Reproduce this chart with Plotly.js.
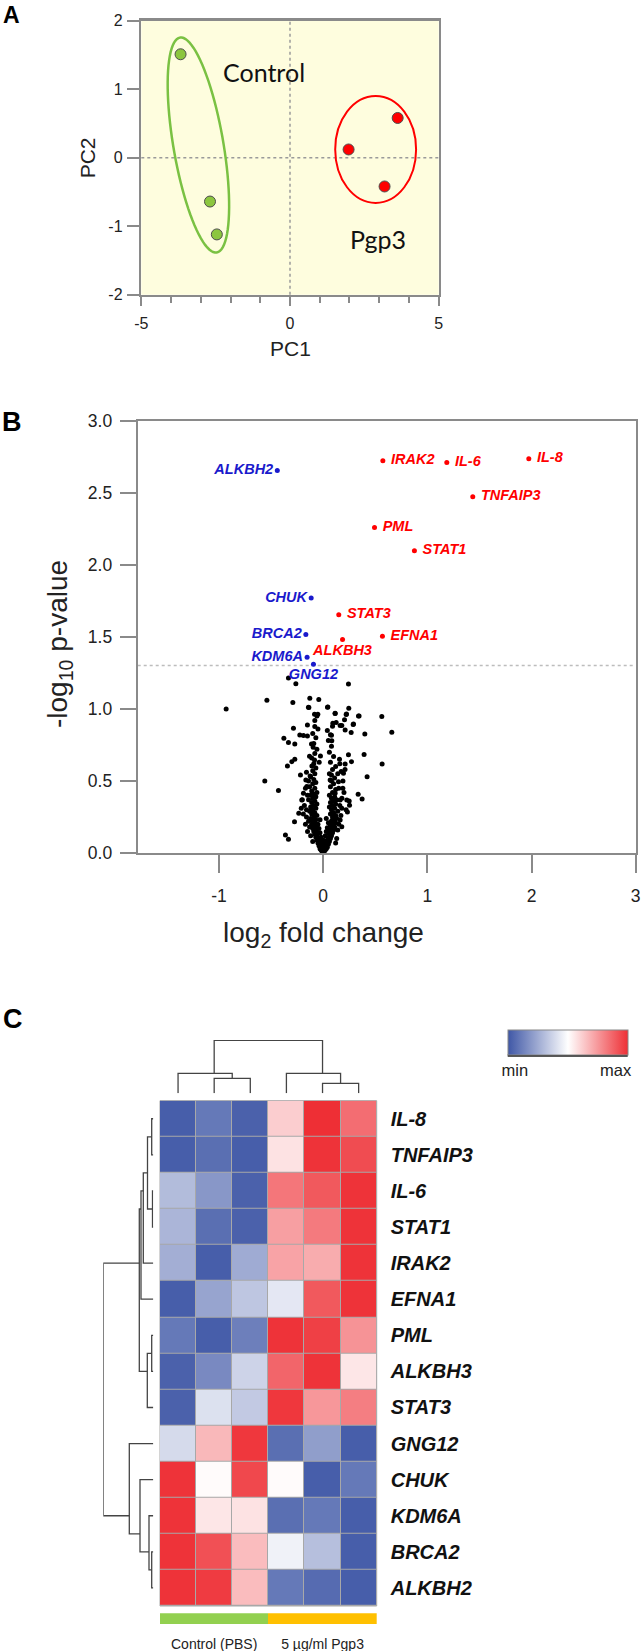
<!DOCTYPE html>
<html><head><meta charset="utf-8">
<script src="https://cdn.plot.ly/plotly-3.0.1.min.js"></script>
<style>html,body{margin:0;padding:0;background:#fff;}#chart{width:642px;height:1651px;}</style>
</head><body><div id="chart"></div>
<script>
// ---------------- DATA ----------------
// Panel A: PCA
const controlPC1 = [-3.68, -2.69, -2.46];
const controlPC2 = [1.51, -0.64, -1.12];
const pgp3PC1 = [1.97, 3.62, 3.18];
const pgp3PC2 = [0.12, 0.58, -0.42];
const pcaXTicks = [-5, 0, 5];
const pcaXTickText = ['-5', '0', '5'];
const pcaYTicks = [-2, -1, 0, 1, 2];
const pcaYTickText = ['-2', '-1', '0', '1', '2'];

// Panel B: volcano
const downGenes = ['ALKBH2', 'CHUK', 'BRCA2', 'KDM6A', 'GNG12'];
const downLogFC = [-0.44, -0.115, -0.166, -0.154, -0.093];
const downLogP = [2.655, 1.769, 1.516, 1.359, 1.310];
const upGenes = ['IL-8', 'IRAK2', 'IL-6', 'TNFAIP3', 'PML', 'STAT1', 'STAT3', 'EFNA1', 'ALKBH3'];
const upLogFC = [1.974, 0.573, 1.187, 1.436, 0.493, 0.876, 0.150, 0.569, 0.186];
const upLogP = [2.736, 2.722, 2.710, 2.472, 2.259, 2.097, 1.653, 1.505, 1.481];
const otherGenes = [
 [-0.931,1.0],[-0.54,1.06],[-0.333,1.215],[-0.262,1.174],[0.243,1.172],[-0.291,1.044],[-0.128,1.074],[-0.042,1.065],
 [-0.137,1.009],[0.045,1.013],[0.246,1.004],[-0.083,0.963],[-0.051,0.963],[0.115,0.97],[0.224,0.965],[0.345,0.951],
 [0.563,0.947],[0.659,0.838],[0.093,0.9],[0.125,0.905],[0.179,0.884],[0.288,0.891],[0.205,0.924],[-0.151,0.889],
 [-0.08,0.877],[-0.285,0.865],[-0.377,0.796],[-0.333,0.766],[-0.272,0.757],[-0.224,0.819],[-0.189,0.815],[-0.151,0.812],
 [-0.112,0.757],[-0.096,0.734],[0.08,0.817],[0.083,0.779],[0.269,0.836],[0.4,0.826],[0.393,0.683],[0.566,0.618],
 [0.422,0.53],[0.243,0.681],[0.272,0.634],[0.157,0.65],[0.211,0.618],[0.173,0.565],[0.195,0.553],[0.147,0.495],
 [0.08,0.542],[0.067,0.507],[-0.272,0.65],[-0.301,0.634],[-0.343,0.604],[-0.131,0.671],[-0.083,0.646],[-0.026,0.674],
 [-0.038,0.63],[-0.218,0.542],[-0.166,0.507],[-0.56,0.5],[-0.429,0.433],[-0.362,0.125],[-0.333,0.095],[0.336,0.407],
 [0.374,0.374],[0.253,0.332],[0.233,0.285],[-0.275,0.216],[-0.234,0.275],[-0.205,0.368],[-0.189,0.415],[-0.157,0.461],
 [-0.125,0.535],[-0.108,0.604],[0.189,0.45],[0.163,0.368],[0.179,0.31],[0.163,0.229],[0.179,0.183],[0.115,0.415],
 [0.099,0.368],[0.227,0.368],[0.291,0.896],[0.339,0.951],[0.211,0.854],[0.163,0.884],[0.115,0.968],[0.221,0.961],
 [0.042,1.011],[-0.141,1.011],
 [-0.01,0.01],[-0.02,0.02],[-0.03,0.03],[-0.02,0.04],[-0.04,0.05],[-0.03,0.06],[-0.05,0.07],[-0.04,0.08],[-0.06,0.09],
 [-0.05,0.10],[-0.07,0.11],[-0.06,0.12],[-0.08,0.13],[-0.07,0.14],[-0.09,0.15],[-0.08,0.16],[-0.10,0.17],[-0.09,0.18],
 [-0.06,0.19],[-0.11,0.20],[-0.08,0.21],[-0.10,0.22],[-0.07,0.23],[-0.12,0.24],[-0.09,0.25],[-0.06,0.26],[-0.11,0.27],
 [-0.08,0.28],[-0.13,0.29],[-0.10,0.30],[-0.07,0.31],[-0.12,0.32],[-0.09,0.33],[-0.06,0.34],[-0.11,0.35],[-0.08,0.36],
 [-0.14,0.37],[-0.10,0.38],[-0.07,0.39],[-0.12,0.40],[-0.09,0.41],[-0.06,0.42],[-0.11,0.43],[-0.08,0.45],[-0.13,0.46],
 [-0.10,0.48],[-0.07,0.49],[-0.09,0.51],[-0.12,0.53],[-0.08,0.55],[-0.10,0.57],[-0.07,0.59],[-0.09,0.62],[-0.11,0.66],
 [-0.08,0.69],[-0.06,0.72],[-0.09,0.76],[-0.07,0.80],[-0.10,0.83],[-0.05,0.86],[-0.08,0.92],[-0.06,0.95],
 [-0.15,0.15],[-0.17,0.2],[-0.14,0.22],[-0.16,0.3],[-0.18,0.33],[-0.15,0.4],[-0.17,0.45],[-0.2,0.37],[-0.19,0.27],
 [-0.13,0.18],[-0.12,0.12],[-0.1,0.08],[-0.16,0.25],[-0.21,0.31],[-0.14,0.5],[-0.16,0.56],
 [0.01,0.01],[0.02,0.02],[0.03,0.03],[0.04,0.04],[0.03,0.05],[0.05,0.06],[0.04,0.07],[0.06,0.08],[0.05,0.09],[0.07,0.10],
 [0.06,0.11],[0.08,0.12],[0.07,0.13],[0.09,0.14],[0.08,0.15],[0.10,0.16],[0.09,0.17],[0.11,0.18],[0.07,0.19],[0.10,0.20],
 [0.12,0.21],[0.08,0.22],[0.11,0.23],[0.13,0.24],[0.09,0.25],[0.12,0.26],[0.07,0.27],[0.10,0.28],[0.14,0.29],[0.08,0.30],
 [0.11,0.31],[0.06,0.32],[0.09,0.33],[0.12,0.34],[0.07,0.35],[0.10,0.36],[0.13,0.37],[0.08,0.38],[0.11,0.39],[0.06,0.40],
 [0.09,0.42],[0.12,0.44],[0.07,0.46],[0.10,0.48],[0.08,0.50],[0.11,0.52],[0.06,0.55],[0.09,0.58],[0.12,0.60],[0.07,0.63],
 [0.10,0.67],[0.06,0.70],[0.08,0.74],[0.05,0.78],[0.07,0.82],[0.04,0.85],[0.09,0.88],
 [0.15,0.2],[0.17,0.26],[0.14,0.16],[0.16,0.33],[0.18,0.38],[0.2,0.42],[0.15,0.45],[0.19,0.5],[0.14,0.55],[0.21,0.58],
 [0.16,0.62],[0.13,0.1],[0.12,0.07],[0.22,0.3],[0.25,0.36],
 [0,0],[-0.005,0.015],[0.005,0.02],[-0.015,0.03],[0.015,0.035],[0.0,0.045],[-0.025,0.055],[0.025,0.06],[0,0.07],
 [-0.035,0.08],[0.035,0.085],[0.0,0.09],[-0.045,0.1],[0.045,0.105],[-0.02,0.11],[0.02,0.12],[-0.055,0.13],[0.055,0.135],
 [-0.03,0.14],[0.03,0.15],[-0.065,0.155],[0.065,0.16],[-0.04,0.17],[0.04,0.175],[-0.075,0.18],[0.075,0.19],[-0.05,0.2],
 [0.05,0.21],[-0.085,0.215],[0.085,0.225],[-0.03,0.23],[0.03,0.24]
];
const otherLogFC = otherGenes.map(p => p[0]);
const otherLogP = otherGenes.map(p => p[1]);
const pThreshold = 0.05;
const volcanoXTicks = [-1, 0, 1, 2, 3];
const volcanoXTickText = ['-1', '0', '1', '2', '3'];

// Panel C: heatmap
const heatGenes = ['IL-8','TNFAIP3','IL-6','STAT1','IRAK2','EFNA1','PML','ALKBH3','STAT3','GNG12','CHUK','KDM6A','BRCA2','ALKBH2'];
const heatSamples = [0, 1, 2, 3, 4, 5];
const heatValues = [
 [0.02,0.10,0.03,0.62,1.00,0.85],
 [0.02,0.07,0.02,0.57,0.99,0.93],
 [0.30,0.19,0.03,0.83,0.90,0.99],
 [0.28,0.07,0.03,0.73,0.82,0.99],
 [0.26,0.02,0.25,0.72,0.70,0.99],
 [0.02,0.23,0.33,0.43,0.90,0.99],
 [0.10,0.02,0.12,0.99,0.96,0.76],
 [0.03,0.15,0.37,0.87,0.99,0.56],
 [0.03,0.41,0.34,0.98,0.75,0.81],
 [0.39,0.67,0.98,0.07,0.21,0.02],
 [0.99,0.51,0.94,0.51,0.02,0.10],
 [0.99,0.56,0.57,0.07,0.10,0.02],
 [0.99,0.92,0.66,0.46,0.31,0.02],
 [0.99,0.97,0.66,0.10,0.06,0.02]
];
const sampleGroups = ['Control (PBS)', '5 µg/ml Pgp3'];
const sampleGroupSizes = [3, 3];
const colorbarLabels = ['min', 'max'];
// linkage: [child1, child2, height]; ids >= nLeaves refer to earlier merges
const colLinkage = [[1,2,15],[0,6,20],[4,5,10],[3,8,20],[7,9,53]];
const rowLinkage = [[0,1,1.6],[2,3,0.8],[14,15,5.8],[16,4,10],[17,5,12.3],[6,7,1.6],[19,8,6],[18,20,14],
                    [12,13,1.6],[11,22,4.3],[10,23,13.3],[9,24,24],[21,25,50]];

// ---------------- LAYOUT HELPERS ----------------
const W = 642, H = 1651;
const fx = p => p / W, fy = p => 1 - p / H;
const FONT = '"Liberation Sans", Arial, sans-serif';
const AX = '#8a8a8a';

// Panel A geometry
const A = {l:141.3, r:438.7, t:20.7, b:294.7};
const xRangeA = [-5, 5], yRangeA = [-2, 2];
const sxA = (A.r - A.l) / (xRangeA[1] - xRangeA[0]);
const syA = (A.b - A.t) / (yRangeA[1] - yRangeA[0]);
function ellipsePath(cx, cy, aPx, bPx, angDeg) {
  const th = angDeg * Math.PI / 180, pts = [];
  for (let i = 0; i <= 90; i++) {
    const t = 2 * Math.PI * i / 90, u = aPx * Math.cos(t), v = bPx * Math.sin(t);
    const dx = u * Math.cos(th) - v * Math.sin(th), dy = u * Math.sin(th) + v * Math.cos(th);
    pts.push((cx + dx / sxA).toFixed(4) + ',' + (cy + dy / syA).toFixed(4));
  }
  return 'M ' + pts.join(' L ') + ' Z';
}

function dendro(linkage, n) {
  const pos = [], hgt = [], cnt = [], P = [], Hh = [];
  for (let i = 0; i < n; i++) { pos[i] = i; hgt[i] = 0; cnt[i] = 1; }
  linkage.forEach((m, k) => {
    const [c1, c2, h] = m, id = n + k;
    P.push(pos[c1], pos[c1], pos[c2], pos[c2], null);
    Hh.push(hgt[c1], h, h, hgt[c2], null);
    cnt[id] = cnt[c1] + cnt[c2];
    pos[id] = (pos[c1] * cnt[c1] + pos[c2] * cnt[c2]) / cnt[id];
    hgt[id] = h;
  });
  return {pos: P, h: Hh};
}
const colD = dendro(colLinkage, heatSamples.length);
const rowD = dendro(rowLinkage, heatGenes.length);

// group bar centers from group sizes
const groupCenters = [], groupWidths = [];
{ let s = 0; sampleGroupSizes.forEach(g => { groupCenters.push(s + (g - 1) / 2); groupWidths.push(g); s += g; }); }

const labelFont = c => ({family: FONT, size: 14.5, color: c, weight: 'bold', style: 'italic'});
const textPosMap = {'ALKBH2':'middle left','CHUK':'middle left','BRCA2':'middle left','KDM6A':'middle left','GNG12':'bottom center','ALKBH3':'bottom center'};
const NB = '\u00a0';

// ---------------- TRACES ----------------
const traces = [
  {type:'scatter', mode:'markers', x:controlPC1, y:controlPC2, xaxis:'x', yaxis:'y',
   marker:{size:11, color:'#8CC63F', line:{color:'#4d4d4d', width:1}}},
  {type:'scatter', mode:'markers', x:pgp3PC1, y:pgp3PC2, xaxis:'x', yaxis:'y',
   marker:{size:11, color:'#FF0000', line:{color:'#4d4d4d', width:1}}},
  {type:'scatter', mode:'markers', x:otherLogFC, y:otherLogP, xaxis:'x2', yaxis:'y2',
   marker:{size:5, color:'#000'}},
  {type:'scatter', mode:'markers+text', x:downLogFC, y:downLogP, xaxis:'x2', yaxis:'y2',
   text:downGenes, textposition:downGenes.map(g => textPosMap[g] || 'middle left'),
   textfont:labelFont('#1a1acc'), marker:{size:5, color:'#1a1acc'}, cliponaxis:false},
  {type:'scatter', mode:'markers+text', x:upLogFC, y:upLogP, xaxis:'x2', yaxis:'y2',
   text:upGenes.map(g => textPosMap[g] ? g : NB + g), textposition:upGenes.map(g => textPosMap[g] || 'middle right'),
   textfont:labelFont('#FF0000'), marker:{size:5, color:'#FF0000'}, cliponaxis:false},
  {type:'heatmap', z:heatValues, x:heatSamples, y:heatGenes, xaxis:'x3', yaxis:'y3', zmin:0, zmax:1,
   xgap:1, ygap:1,
   colorscale:[[0,'#3F57A6'],[0.5,'#FFFFFF'],[1,'#EE2F35']],
   colorbar:{orientation:'h', x:fx(507.7), xanchor:'left', y:fy(1030), yanchor:'top',
     len:120, lenmode:'pixels', thickness:25, thicknessmode:'pixels', xpad:0, ypad:0,
     outlinewidth:1, outlinecolor:'#888',
     tickmode:'array', tickvals:[0.06, 0.9], ticktext:colorbarLabels, ticks:'',
     tickfont:{family:FONT, size:16.5, color:'#222'}}},
  {type:'scatter', mode:'lines', x:colD.pos, y:colD.h, xaxis:'x4', yaxis:'y4',
   line:{color:'#444', width:1.3}, connectgaps:false},
  {type:'scatter', mode:'lines', x:rowD.h, y:rowD.pos, xaxis:'x5', yaxis:'y5',
   line:{color:'#444', width:1.3}, connectgaps:false},
  {type:'bar', x:groupCenters, y:groupCenters.map(() => 1), width:groupWidths, xaxis:'x6', yaxis:'y6',
   marker:{color:['#92D050', '#FFC000'], line:{width:0}}}
];

const hm = {l:160, r:376.7, t:1100.7, b:1606};
const tickFontA = {family:FONT, size:16, color:'#222'};
const tickFontB = {family:FONT, size:17.5, color:'#222'};
const hidden = {visible:false, showgrid:false, zeroline:false, fixedrange:true};

const layout = {
  width:W, height:H, margin:{l:0, r:0, t:0, b:0}, paper_bgcolor:'#fff', plot_bgcolor:'rgba(0,0,0,0)',
  showlegend:false, hovermode:false, bargap:0,
  font:{family:FONT, color:'#222'},
  xaxis:{domain:[fx(A.l), fx(A.r)], range:xRangeA, anchor:'y', tickmode:'array', tickvals:pcaXTicks, ticktext:pcaXTickText,
    ticks:'outside', ticklen:9, tickwidth:2, tickcolor:AX,
    minor:{tickmode:'linear', tick0:0, dtick:1, ticks:'outside', ticklen:6, tickwidth:2, tickcolor:AX},
    showline:true, mirror:true, linecolor:AX, linewidth:2.5, showgrid:false, zeroline:false, tickfont:tickFontA, ticklabelstandoff:4},
  yaxis:{domain:[fy(A.b), fy(A.t)], range:yRangeA, anchor:'x', tickmode:'array', tickvals:pcaYTicks, ticktext:pcaYTickText,
    ticks:'outside', ticklen:12, tickwidth:2, tickcolor:AX,
    showline:true, mirror:true, linecolor:AX, linewidth:2.5, showgrid:false, zeroline:false, tickfont:tickFontA, ticklabelstandoff:1},
  xaxis2:{domain:[fx(137.7), fx(635.7)], range:[-1.78, 3], anchor:'y2', tickmode:'array', tickvals:volcanoXTicks, ticktext:volcanoXTickText,
    ticks:'outside', ticklen:18, tickwidth:2, tickcolor:AX,
    showline:true, mirror:true, linecolor:AX, linewidth:2, showgrid:false, zeroline:false, tickfont:tickFontB, ticklabelstandoff:8},
  yaxis2:{domain:[fy(853), fy(420.7)], range:[0, 3], anchor:'x2', dtick:0.5, tick0:0, tickformat:'.1f',
    ticks:'outside', ticklen:16, tickwidth:2, tickcolor:AX,
    showline:true, mirror:true, linecolor:AX, linewidth:2, showgrid:false, zeroline:false, tickfont:tickFontB, ticklabelstandoff:4},
  xaxis3:Object.assign({}, hidden, {domain:[fx(hm.l), fx(hm.r)], range:[-0.5, 5.5], anchor:'y3'}),
  yaxis3:{domain:[fy(hm.b), fy(hm.t)], type:'category', range:[13.5, -0.5], anchor:'x3', side:'right',
    showline:false, showgrid:false, zeroline:false, ticks:'', ticklabelstandoff:13,
    tickfont:{family:FONT, size:20, color:'#111', weight:'bold', style:'italic'}},
  xaxis4:Object.assign({}, hidden, {domain:[fx(hm.l), fx(hm.r)], range:[-0.5, 5.5], anchor:'y4'}),
  yaxis4:Object.assign({}, hidden, {domain:[fy(1093.3), fy(1040)], range:[0, 53.3], anchor:'x4'}),
  xaxis5:Object.assign({}, hidden, {domain:[fx(103.3), fx(153.3)], range:[50, 0], anchor:'y5'}),
  yaxis5:Object.assign({}, hidden, {domain:[fy(hm.b), fy(hm.t)], range:[13.5, -0.5], anchor:'x5'}),
  xaxis6:{domain:[fx(hm.l), fx(hm.r)], range:[-0.5, 5.5], anchor:'y6', tickmode:'array', tickvals:groupCenters, ticktext:sampleGroups,
    ticks:'outside', ticklen:7, tickcolor:'rgba(0,0,0,0)', showline:false, showgrid:false, zeroline:false,
    tickfont:{family:FONT, size:14, color:'#222'}},
  yaxis6:Object.assign({}, hidden, {domain:[fy(1624), fy(1613.3)], range:[0, 1], anchor:'x6'}),
  shapes:[
    {type:'rect', xref:'x domain', yref:'y domain', x0:0, x1:1, y0:0, y1:1, fillcolor:'#FEFDDE', line:{width:0}, layer:'below'},
    {type:'line', xref:'x', yref:'y domain', x0:0, x1:0, y0:0, y1:1, line:{color:'#9a9a9a', width:1.5, dash:'dot'}, layer:'below'},
    {type:'line', xref:'x domain', yref:'y', x0:0, x1:1, y0:0, y1:0, line:{color:'#9a9a9a', width:1.5, dash:'dot'}, layer:'below'},
    {type:'path', xref:'x', yref:'y', path:ellipsePath(-3.08, 0.185, 109, 25, 99.7), line:{color:'#7AC143', width:2.5}},
    {type:'circle', xref:'x', yref:'y', x0:1.52, x1:4.24, y0:-0.66, y1:0.90, line:{color:'#FF0000', width:2}},
    {type:'line', xref:'x2 domain', yref:'y2', x0:0, x1:1, y0:-Math.log10(pThreshold), y1:-Math.log10(pThreshold),
     line:{color:'#bdbdbd', width:1.3, dash:'dot'}, layer:'below'},
    {type:'rect', xref:'x3 domain', yref:'y3 domain', x0:0, x1:1, y0:0, y1:1, fillcolor:'#a8a8a8', line:{color:'#a8a8a8', width:1}, layer:'below'},
    {type:'line', xref:'paper', yref:'paper', x0:fx(507.7), x1:fx(627.7), y0:fy(1055.5), y1:fy(1055.5), line:{color:'#222', width:2.5}}
  ],
  annotations:[
    {text:'<b>A</b>', xref:'paper', yref:'paper', x:fx(12), y:fy(15), xanchor:'center', yanchor:'middle', showarrow:false, font:{family:FONT, size:23, color:'#000'}},
    {text:'<b>B</b>', xref:'paper', yref:'paper', x:fx(12), y:fy(422), xanchor:'center', yanchor:'middle', showarrow:false, font:{family:FONT, size:27, color:'#000'}},
    {text:'<b>C</b>', xref:'paper', yref:'paper', x:fx(12.5), y:fy(1019), xanchor:'center', yanchor:'middle', showarrow:false, font:{family:FONT, size:27, color:'#000'}},
    {text:'PC1', xref:'paper', yref:'paper', x:fx(290), y:fy(348.3), xanchor:'center', yanchor:'middle', showarrow:false, font:{family:FONT, size:21, color:'#222'}},
    {text:'PC2', xref:'paper', yref:'paper', x:fx(88.3), y:fy(158), xanchor:'center', yanchor:'middle', textangle:-90, showarrow:false, font:{family:FONT, size:21, color:'#222'}},
    {text:'Control', xref:'x', yref:'y', x:-0.86, y:1.25, xanchor:'center', yanchor:'middle', showarrow:false, font:{family:'Lato, "Open Sans", sans-serif', size:25, color:'#111'}},
    {text:'Pgp3', xref:'x', yref:'y', x:2.95, y:-1.18, xanchor:'center', yanchor:'middle', showarrow:false, font:{family:'Lato, "Open Sans", sans-serif', size:25, color:'#111'}},
    {text:'log<sub>2</sub> fold change', xref:'paper', yref:'paper', x:fx(323), y:fy(934), xanchor:'center', yanchor:'middle', showarrow:false, font:{family:FONT, size:28, color:'#222'}},
    {text:'-log<sub>10</sub> p-value', xref:'paper', yref:'paper', x:fx(60), y:fy(644), xanchor:'center', yanchor:'middle', textangle:-90, showarrow:false, font:{family:FONT, size:28, color:'#222'}}
  ]
};

Plotly.newPlot('chart', traces, layout, {staticPlot:true, displayModeBar:false});
</script></body></html>
